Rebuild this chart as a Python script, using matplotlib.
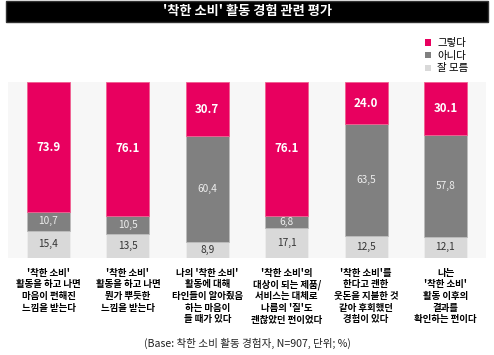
import matplotlib
matplotlib.use("Agg")
import matplotlib.pyplot as plt
from matplotlib.patches import Patch, Rectangle
import numpy as np

plt.rcParams['font.family'] = ['Noto Sans CJK KR', 'DejaVu Sans']

categories = [
    "'착한 소비'\n활동을 하고 나면\n마음이 편해진\n느낌을 받는다",
    "'착한 소비'\n활동을 하고 나면\n뭔가 뿌듯한\n느낌을 받는다",
    "나의 '착한 소비'\n활동에 대해\n타인들이 알아줬음\n하는 마음이\n들 때가 있다",
    "'착한 소비'의\n대상이 되는 제품/\n서비스는 대체로\n나름의 '질'도\n괜찮았던 편이었다",
    "'착한 소비'를\n한다고 괜한\n웃돈을 지불한 것\n같아 후회했던\n경험이 있다",
    "나는\n'착한 소비'\n활동 이후의\n결과를\n확인하는 편이다",
]
yes = [73.9, 76.1, 30.7, 76.1, 24.0, 30.1]
no = [10.7, 10.5, 60.4, 6.8, 63.5, 57.8]
dunno = [15.4, 13.5, 8.9, 17.1, 12.5, 12.1]
series_names = ["그렇다", "아니다", "잘 모름"]

pink = "#e8005f"
gray = "#808080"
light = "#d9d9d9"

fig = plt.figure(figsize=(4.94, 3.55), dpi=100)
ax = fig.add_axes([8/494, 1-258/355, 478/494, 176/355])
ax.set_facecolor("#f7f7f7")

x = np.arange(len(categories))
w = 0.54
ax.bar(x, dunno, w, color=light, edgecolor="#eeeeee", linewidth=0.6)
ax.bar(x, no, w, bottom=dunno, color=gray, edgecolor="#bbbbbb", linewidth=0.6)
bot3 = np.array(dunno) + np.array(no)
ax.bar(x, yes, w, bottom=bot3, color=pink, edgecolor="#f06090", linewidth=0.6)

for i in range(len(x)):
    ax.text(x[i], dunno[i]/2, f"{dunno[i]:.1f}".replace(".", ","), ha="center", va="center",
            fontsize=7.3, color="#333333")
    ax.text(x[i], dunno[i] + no[i]/2, f"{no[i]:.1f}".replace(".", ","), ha="center", va="center",
            fontsize=7.3, color="#eeeeee")
    ax.text(x[i], bot3[i] + yes[i]/2, f"{yes[i]:.1f}", ha="center", va="center",
            fontsize=8.3, color="white", fontweight="bold")

ax.set_xlim(-0.51, 5.51)
ax.set_ylim(0, 100)
ax.set_yticks([])
ax.set_xticks(x)
ax.set_xticklabels(categories, fontsize=6.8, fontweight="bold", linespacing=1.2, va="top")
ax.tick_params(axis="x", length=0, pad=7)
for s in ax.spines.values():
    s.set_visible(False)

# title bar
fig.patches.append(Rectangle((6/494, 1-22/355), 482/494, 21/355, transform=fig.transFigure,
                             facecolor="black", edgecolor="#333333", zorder=0))
fig.text(0.5, 1-11.5/355, "'착한 소비' 활동 경험 관련 평가", ha="center", va="center",
         fontsize=9.5, color="white", fontweight="bold")

handles = [Patch(facecolor=c) for c in [pink, gray, light]]
fig.legend(handles, series_names, loc="upper left", bbox_to_anchor=(421/494, 1-34/355),
           frameon=False, fontsize=7.5, handlelength=0.55, handleheight=0.55,
           handletextpad=0.6, labelspacing=0.25, borderaxespad=0,
           prop={"weight": "medium", "size": 7.5})

fig.text(0.5, 1-343/355, "(Base: 착한 소비 활동 경험자, N=907, 단위; %)", ha="center", va="center",
         fontsize=7.6, color="#222222")

fig.savefig("out.png", dpi=100)
